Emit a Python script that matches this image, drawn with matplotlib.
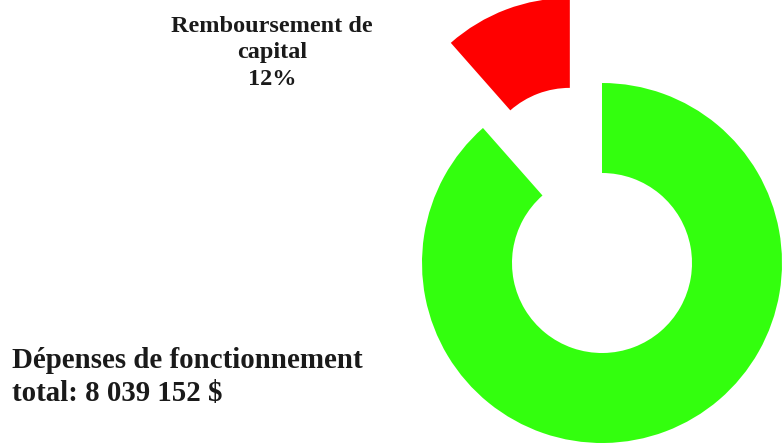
import matplotlib.pyplot as plt

# Répartition des dépenses
categories = ["Dépenses de fonctionnement", "Remboursement de capital"]
shares = [88.5, 11.5]
colors = ["#33ff0e", "#ff0000"]
total_label = "8 039 152 $"

W, H = 784, 444
fig = plt.figure(figsize=(W / 100, H / 100), dpi=100)
ax = fig.add_axes([0, 0, 1, 1])

radius = 180
ax.pie(
    shares,
    colors=colors,
    startangle=90,
    counterclock=False,
    explode=[0, 91],  # data units (pixels here)
    center=(602, H - 263),
    radius=radius,
    wedgeprops=dict(width=90, linewidth=0),
    frame=True,
)
ax.set_xlim(0, W)
ax.set_ylim(0, H)
ax.set_aspect("equal")
ax.axis("off")

font = dict(family="Liberation Serif", fontweight="bold", color="#1a1a1a")
ax.text(272, H - 53, f"Remboursement de\ncapital\n{round(shares[1])}%",
        ha="center", va="center", fontsize=17.5, linespacing=1.35, **font)
ax.text(12, H - 377, f"{categories[0]}\ntotal: {total_label}",
        ha="left", va="center", fontsize=20.8, linespacing=1.3, **font)

fig.savefig("out.png", dpi=100)
